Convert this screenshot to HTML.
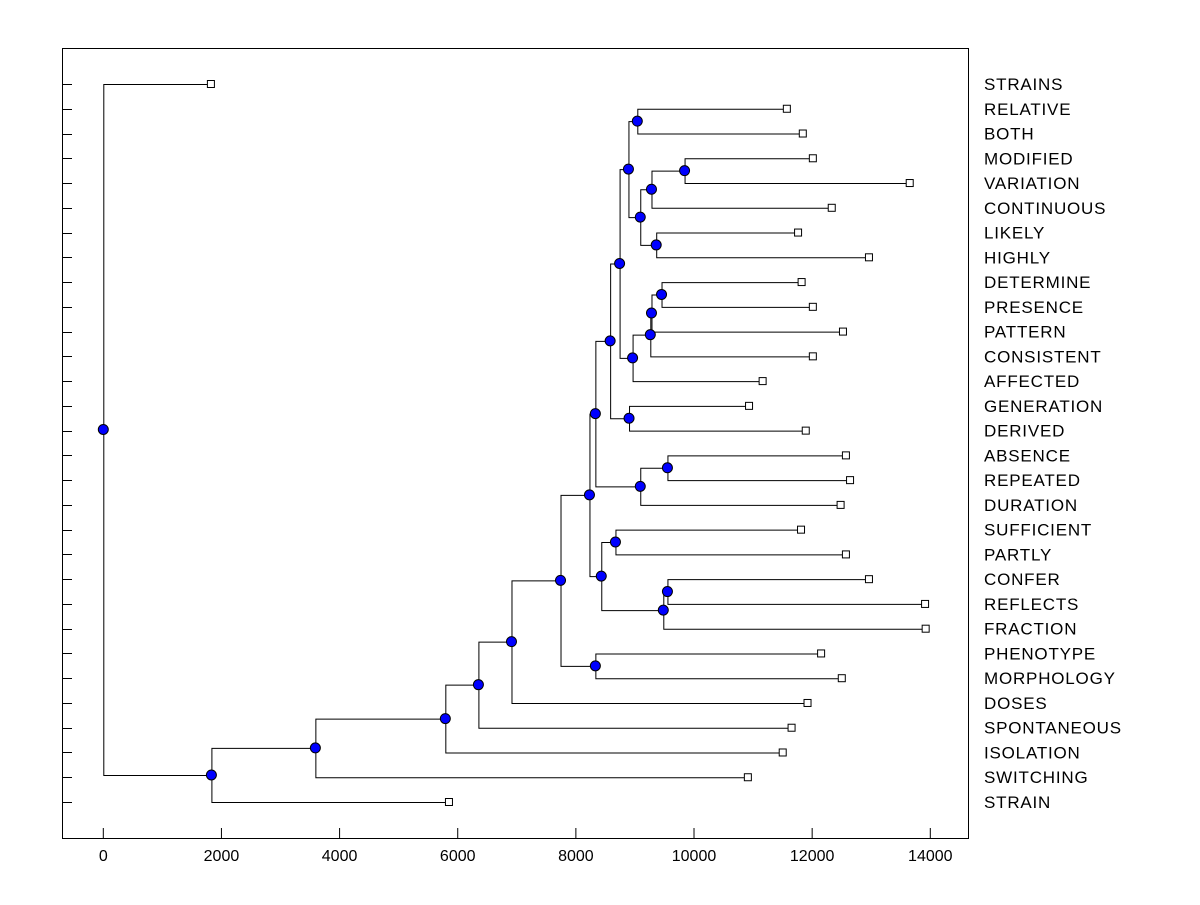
<!DOCTYPE html>
<html><head><meta charset="utf-8"><style>
html,body{margin:0;padding:0;background:#fff;}
svg text{font-family:"Liberation Sans",Arial,sans-serif;font-size:16px;fill:#000;}
svg text.leaf{font-size:17px;letter-spacing:0.8px;}
</style></head><body>
<svg id="chart" width="1200" height="900" xmlns="http://www.w3.org/2000/svg">
<rect x="62.5" y="48.5" width="906" height="790" fill="none" stroke="#000" stroke-width="1"/>
<g id="marks"></g>
</svg>
<script>
const leaves = ["STRAINS","RELATIVE","BOTH","MODIFIED","VARIATION","CONTINUOUS","LIKELY","HIGHLY","DETERMINE","PRESENCE","PATTERN","CONSISTENT","AFFECTED","GENERATION","DERIVED","ABSENCE","REPEATED","DURATION","SUFFICIENT","PARTLY","CONFER","REFLECTS","FRACTION","PHENOTYPE","MORPHOLOGY","DOSES","SPONTANEOUS","ISOLATION","SWITCHING","STRAIN"];
const leafValues = [1830,11580,11850,12020,13660,12340,11770,12970,11830,12020,12530,12020,11170,10940,11900,12580,12650,12490,11820,12580,12970,13920,13930,12160,12510,11930,11660,11510,10920,5860];
const mergeIds =    ["x","ab","z","aa","y","s","w","v","u","t","r","q","n","p","o","i","k","m","l","j","g","h","f","e","d","c","b","a","root"];
const mergeLeft =   ["RELATIVE","MODIFIED","ab","LIKELY","z","x","DETERMINE","w","v","u","GENERATION","s","q","ABSENCE","p","n","SUFFICIENT","CONFER","m","k","i","PHENOTYPE","g","f","e","d","c","b","STRAINS"];
const mergeRight =  ["BOTH","VARIATION","CONTINUOUS","HIGHLY","aa","y","PRESENCE","PATTERN","CONSISTENT","AFFECTED","DERIVED","t","r","REPEATED","DURATION","o","PARTLY","REFLECTS","FRACTION","l","j","MORPHOLOGY","h","DOSES","SPONTANEOUS","ISOLATION","SWITCHING","STRAIN","a"];
const mergeHeight = [9040,9840,9280,9360,9090,8890,9450,9280,9260,8960,8900,8740,8580,9550,9090,8330,8670,9550,9480,8430,8230,8330,7740,6910,6350,5790,3590,1830,0];
const xTicks = [0,2000,4000,6000,8000,10000,12000,14000];

const NS="http://www.w3.org/2000/svg";
const g=document.getElementById('marks');
const xs=v=>103.3+v*(827/14000);
const ys=i=>84+i*(718/29);
function el(tag,attrs){const e=document.createElementNS(NS,tag);for(const k in attrs)e.setAttribute(k,attrs[k]);g.appendChild(e);return e;}
xTicks.forEach(t=>{
  const l=el('line',{x1:xs(t),x2:xs(t),y1:838,y2:828,stroke:'#000'});
  
  
  const tx=el('text',{x:xs(t),y:861,'text-anchor':'middle'});
  tx.textContent=t;
  
  
});
const pos={};
leaves.forEach((n,i)=>{
  pos[n]={x:xs(leafValues[i]),y:ys(i),leaf:true};
  const l=el('line',{x1:62.5,x2:72,y1:Math.round(ys(i))+0.5,y2:Math.round(ys(i))+0.5,stroke:'#000'});
  
  
  const tx=el('text',{x:984,y:ys(i)+6,'class':'leaf'});
  tx.textContent=n;
  
  
});
const dots=[];
mergeIds.forEach((id,k)=>{
  const a=pos[mergeLeft[k]],b=pos[mergeRight[k]];
  const x=xs(mergeHeight[k]),y=(a.y+b.y)/2;
  pos[id]={x:x,y:y};
  const p=el('path',{d:`M${a.x},${a.y+0.5}H${x+0.5}V${b.y+0.5}H${b.x}`,fill:'none',stroke:'#000','stroke-width':1});
  
  
  dots.push([x,y]);
});
dots.forEach(d=>{
  const c=el('circle',{cx:d[0],cy:d[1],r:5,fill:'#0000ff',stroke:'#000','stroke-width':1});
  
  
});
leaves.forEach(n=>{
  const p=pos[n];
  const r=el('rect',{x:p.x-4,y:p.y-3.5,width:7,height:7,fill:'#fff',stroke:'#000'});
  
  
});
</script>
</body></html>
